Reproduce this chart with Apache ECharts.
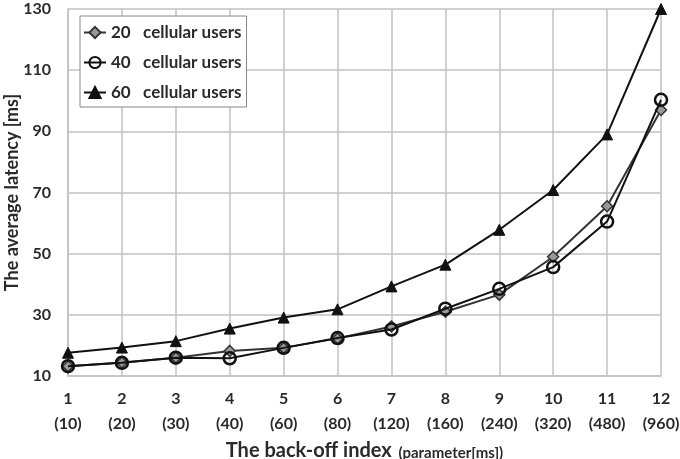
<!DOCTYPE html>
<html>
<head>
<meta charset="utf-8">
<script src="https://cdn.jsdelivr.net/npm/echarts@6/dist/echarts.min.js"></script>
<style>
  html, body { margin: 0; padding: 0; background: #fff; }
  #chart { width: 680px; height: 459px; }
</style>
</head>
<body>
<div id="chart"></div>
<script>
const backoffIndex = ['1', '2', '3', '4', '5', '6', '7', '8', '9', '10', '11', '12']
const backoffParam = ['10', '20', '30', '40', '60', '80', '120', '160', '240', '320', '480', '960']

const users20 = [13.2, 14.4, 16, 18.2, 19.2, 22.3, 26.2, 31, 36.6, 49, 65.5, 97]
const users40 = [13.2, 14.3, 16, 15.8, 19.2, 22.4, 25.2, 32, 38.5, 45.6, 60.5, 100.3]
const users60 = [17.6, 19.3, 21.4, 25.5, 29.1, 31.8, 39.3, 46.4, 57.8, 70.8, 89, 130]

const categories = backoffIndex.map((v, i) => v + '\n(' + backoffParam[i] + ')')

const gridColor = '#c2c2c2'
const textColor = '#2a2a2a'
const font = 'Lato'

const chart = echarts.init(document.getElementById('chart'))

chart.setOption({
  animation: false,
  grid: {
    left: 68,
    right: 19,
    top: 9,
    bottom: 83,
    outerBoundsMode: 'none'
  },
  legend: {
    orient: 'vertical',
    left: 80,
    top: 16,
    padding: [8, 5, 6, 3],
    itemGap: 13,
    itemWidth: 22,
    itemHeight: 14,
    borderColor: '#888',
    borderWidth: 1,
    borderRadius: 0,
    backgroundColor: '#fff',
    textStyle: {
      color: textColor,
      fontFamily: font,
      fontWeight: 'bold',
      fontSize: 17
    },
    data: ['20   cellular users', '40   cellular users', '60   cellular users']
  },
  xAxis: {
    type: 'category',
    data: categories,
    boundaryGap: false,
    axisLine: { lineStyle: { color: gridColor, width: 1.5 } },
    axisTick: { show: false },
    splitLine: { show: true, lineStyle: { color: gridColor, width: 1.5 } },
    axisLabel: {
      color: textColor,
      fontFamily: font,
      fontWeight: 'bold',
      fontSize: 16,
      lineHeight: 25,
      margin: 10,
      interval: 0
    },
    name: '{a|The back-off index}  {b|(parameter[ms])}',
    nameLocation: 'middle',
    nameGap: 65,
    nameTextStyle: {
      rich: {
        a: { fontFamily: font, fontWeight: 'bold', fontSize: 20, color: textColor },
        b: { fontFamily: font, fontWeight: 'bold', fontSize: 15, color: textColor, padding: [4, 0, 0, 0] }
      }
    }
  },
  yAxis: {
    type: 'value',
    min: 10,
    max: 130,
    interval: 20,
    axisLine: { show: true, lineStyle: { color: gridColor, width: 1.5 } },
    axisTick: { show: false },
    splitLine: { lineStyle: { color: gridColor, width: 1.5 } },
    axisLabel: {
      color: textColor,
      fontFamily: font,
      fontWeight: 'bold',
      fontSize: 16,
      margin: 17
    },
    name: 'The average latency [ms]',
    nameLocation: 'middle',
    nameGap: 47,
    nameMoveOverlap: false,
    nameTextStyle: {
      color: textColor,
      fontFamily: font,
      fontWeight: 'bold',
      fontSize: 18
    }
  },
  series: [
    {
      name: '20   cellular users',
      type: 'line',
      data: users20,
      symbol: 'diamond',
      symbolSize: 11,
      lineStyle: { color: '#333', width: 2 },
      itemStyle: { color: '#999', borderColor: '#333', borderWidth: 1.5 },
      z: 3
    },
    {
      name: '40   cellular users',
      type: 'line',
      data: users40,
      symbol: 'circle',
      symbolSize: 12,
      lineStyle: { color: '#111', width: 2 },
      itemStyle: { color: 'rgba(255,255,255,0)', borderColor: '#111', borderWidth: 2.5 },
      z: 4
    },
    {
      name: '60   cellular users',
      type: 'line',
      data: users60,
      symbol: 'triangle',
      symbolSize: 11,
      lineStyle: { color: '#111', width: 2 },
      itemStyle: { color: '#111', borderColor: '#111', borderWidth: 1 },
      z: 5
    }
  ]
})
</script>
</body>
</html>
